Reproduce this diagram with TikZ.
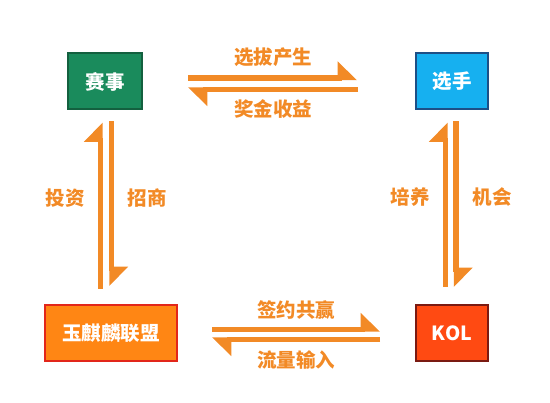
\documentclass[tikz,border=0pt]{standalone}
\usepackage{fontspec}
\newfontfamily\cnfont{Noto Sans CJK SC}
\newcommand*{\labelfont}{\cnfont\bfseries\fontsize{19.5}{21}\selectfont}
\definecolor{A}{HTML}{F28A26}
\definecolor{G}{HTML}{1A8B5C}
\definecolor{GD}{HTML}{13603F}
\definecolor{B}{HTML}{16B0F0}
\definecolor{BD}{HTML}{1D4F86}
\definecolor{O}{HTML}{FF8614}
\definecolor{OD}{HTML}{E2261A}
\definecolor{R}{HTML}{FF4A12}
\definecolor{RD}{HTML}{7A1A12}
\usetikzlibrary{arrows.meta}
\usetikzlibrary{positioning}
\tikzstyle{box}=[inner sep=0pt, line width=2pt, text=white, minimum height=56pt, font=\labelfont]
\tikzstyle{flow}=[line width=5.5pt, draw=A, -{Triangle[left, length=17pt, width=32pt]}]
\tikzstyle{tag}=[text=A, inner sep=0pt, font=\labelfont]

\begin{document}
\begin{tikzpicture}[x=1pt, y=1pt]
    \path [use as bounding box] (0,0) rectangle (550,-403);
        \node [box, fill=G, draw=GD, minimum width=74pt] (match) at (105,-81.5) {赛事};
        \node [box, fill=B, draw=BD, minimum width=72pt] (player) at (452,-81.5) {选手};
        \node [box, fill=O, draw=OD, minimum width=132pt] (league) at (111,-333) {玉麒麟联盟};
        \node [box, fill=R, draw=RD, minimum width=72pt] (kol) at (452,-333) {KOL};
        % top
        \draw [flow, shorten <=45pt, shorten >=58pt] ([yshift=3.5pt]match.east) -- ([yshift=3.5pt]match.east -| player.west);
        \draw [flow, shorten <=57pt, shorten >=45pt] ([yshift=-8pt]player.west) -- ([yshift=-8pt]player.west -| match.east);
        \node [tag] (t1) at (273,-57) {选拔产生};
        \node [tag] (t2) at (273,-109) {奖金收益};
        % bottom
        \draw [flow, shorten <=34pt, shorten >=35pt] ([yshift=3.5pt]league.east) -- ([yshift=3.5pt]league.east -| kol.west);
        \draw [flow, shorten <=35pt, shorten >=34pt] ([yshift=-6.5pt]kol.west) -- ([yshift=-6.5pt]kol.west -| league.east);
        \node [tag] (t3) at (296,-310) {签约共赢};
        \node [tag] (t4) at (296,-360) {流量输入};
        % left
        \draw [flow, shorten <=15pt, shorten >=12pt] ([xshift=-4.5pt]match.south |- league.north) -- ([xshift=-4.5pt]match.south);
        \draw [flow, shorten <=11pt, shorten >=18pt] ([xshift=6.5pt]match.south) -- ([xshift=6.5pt]match.south |- league.north);
        \node [tag] (t5) at (65,-198) {投资};
        \node [tag] (t6) at (147,-198) {招商};
        % right
        \draw [flow, shorten <=17pt, shorten >=12pt] ([xshift=-6.5pt]kol.north) -- ([xshift=-6.5pt]player.south);
        \draw [flow, shorten <=11pt, shorten >=17pt] ([xshift=4pt]player.south) -- ([xshift=4pt]kol.north);
        \node [tag] (t7) at (410,-197) {培养};
        \node [tag] (t8) at (492,-197) {机会};
    \end{tikzpicture}
\end{document}
